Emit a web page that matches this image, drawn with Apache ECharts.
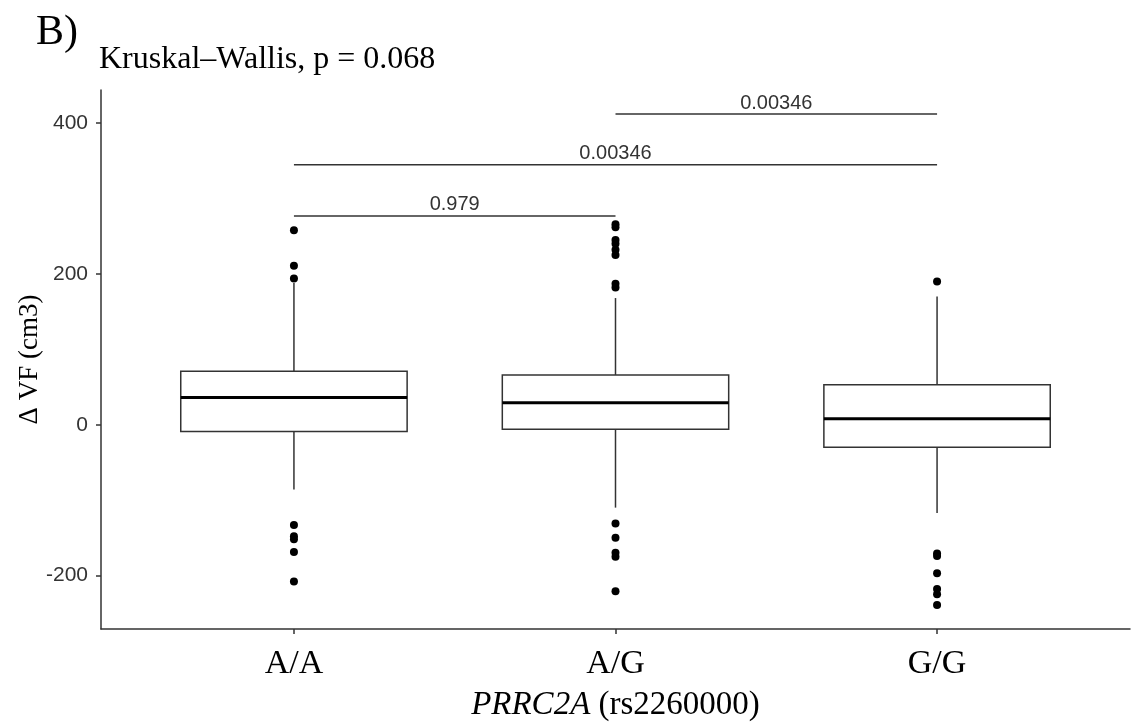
<!DOCTYPE html>
<html>
<head>
<meta charset="utf-8">
<script src="https://cdn.jsdelivr.net/npm/echarts@6/dist/echarts.min.js"></script>
<style>html,body{margin:0;padding:0;background:#fff}#c{width:1132px;height:724px}</style>
</head>
<body>
<div id="c"></div>
<script>
const categories = ['A/A', 'A/G', 'G/G'];
const lowerWhisker = [-86, -110, -117];
const q1 = [-9, -6, -30];
const medians = [36, 29, 8];
const q3 = [71, 66, 53];
const upperWhisker = [188, 168, 170];
const outliersAA = [258, 211, 194, -133, -148, -152, -169, -208];
const outliersAG = [266, 262, 245, 240, 232, 225, 187, 182, -131, -150, -170, -175, -221];
const outliersGG = [190, -171, -174, -197, -218, -225, -239];
const yTicks = [-200, 0, 200, 400];
const comparisonFrom = [1, 1, 2];
const comparisonTo = [2, 3, 3];
const comparisonLevel = [277, 345, 412];
const pValues = ['0.979', '0.00346', '0.00346'];
const titleText = 'Kruskal\u2013Wallis, p = 0.068';
const panelLabel = 'B)';

const boxData = categories.map((c, i) => [i + 1, lowerWhisker[i], q1[i], medians[i], q3[i], upperWhisker[i]]);
const outlierData = [];
[outliersAA, outliersAG, outliersGG].forEach((arr, i) => arr.forEach(v => outlierData.push([i + 1, v])));
const bracketData = pValues.map((p, i) => [comparisonFrom[i], comparisonTo[i], comparisonLevel[i]]);

const stroke = '#333';
const chart = echarts.init(document.getElementById('c'), null, {renderer: 'canvas'});
chart.setOption({
  animation: false,
  backgroundColor: '#fff',
  grid: {left: 101, right: 2, top: 90, bottom: 95, containLabel: false, outerBoundsMode: 'none'},
  graphic: [
    {type: 'text', left: 36, top: 12, style: {text: panelLabel, font: '42px "Liberation Serif"', fill: '#000'}},
    {type: 'text', left: 99, top: 44, style: {text: titleText, font: '32px "Liberation Serif"', fill: '#000'}}
  ],
  xAxis: {
    type: 'value', min: 0.4, max: 3.6,
    splitLine: {show: false},
    axisLine: {show: true, onZero: false, lineStyle: {color: stroke, width: 1.5}},
    axisTick: {show: true, customValues: [1, 2, 3], length: 5, lineStyle: {color: stroke, width: 1.5}},
    axisLabel: {customValues: [1, 2, 3], formatter: v => categories[Math.round(v) - 1], margin: 18,
      fontFamily: 'Liberation Serif', fontSize: 34, color: '#000'},
    name: '{i|PRRC2A} (rs2260000)', nameLocation: 'middle', nameGap: 60, nameMoveOverlap: false,
    nameTextStyle: {fontFamily: 'Liberation Serif', fontSize: 33, color: '#000',
      rich: {i: {fontStyle: 'italic', fontFamily: 'Liberation Serif', fontSize: 33, color: '#000'}}}
  },
  yAxis: {
    type: 'value', min: -271, max: 444,
    splitLine: {show: false},
    axisLine: {show: true, onZero: false, lineStyle: {color: stroke, width: 1.5}},
    axisTick: {show: true, customValues: yTicks, length: 5, lineStyle: {color: stroke, width: 1.5}},
    axisLabel: {customValues: yTicks, margin: 13, fontFamily: 'Liberation Sans', fontSize: 21, color: '#333'},
    name: '\u0394 VF (cm3)', nameLocation: 'middle', nameGap: 58, nameRotate: 90, nameMoveOverlap: false,
    nameTextStyle: {fontFamily: 'Liberation Serif', fontSize: 27, color: '#000'}
  },
  series: [
    {
      type: 'custom',
      data: boxData,
      encode: {x: 0, y: [1, 2, 3, 4, 5]},
      renderItem: function (params, api) {
        const x = api.value(0);
        const pLow = api.coord([x, api.value(1)]);
        const pQ1 = api.coord([x, api.value(2)]);
        const pMed = api.coord([x, api.value(3)]);
        const pQ3 = api.coord([x, api.value(4)]);
        const pHigh = api.coord([x, api.value(5)]);
        const hw = api.size([0.352, 0])[0];
        const ls = {stroke: stroke, lineWidth: 1.5, fill: null};
        return {
          type: 'group',
          children: [
            {type: 'line', shape: {x1: pLow[0], y1: pLow[1], x2: pQ1[0], y2: pQ1[1]}, style: ls},
            {type: 'line', shape: {x1: pQ3[0], y1: pQ3[1], x2: pHigh[0], y2: pHigh[1]}, style: ls},
            {type: 'rect', shape: {x: pQ3[0] - hw, y: pQ3[1], width: 2 * hw, height: pQ1[1] - pQ3[1]}, style: {stroke: stroke, lineWidth: 1.5, fill: '#fff'}},
            {type: 'line', shape: {x1: pMed[0] - hw, y1: pMed[1], x2: pMed[0] + hw, y2: pMed[1]}, style: {stroke: '#000', lineWidth: 3}}
          ]
        };
      },
      z: 2
    },
    {
      type: 'scatter',
      data: outlierData,
      symbol: 'circle',
      symbolSize: 8,
      itemStyle: {color: '#000', opacity: 1},
      z: 3
    },
    {
      type: 'custom',
      data: bracketData,
      encode: {x: [0, 1], y: 2},
      renderItem: function (params, api) {
        const a = api.coord([api.value(0), api.value(2)]);
        const b = api.coord([api.value(1), api.value(2)]);
        return {
          type: 'group',
          children: [
            {type: 'line', shape: {x1: a[0], y1: a[1], x2: b[0], y2: b[1]}, style: {stroke: stroke, lineWidth: 1.5}},
            {type: 'text', x: (a[0] + b[0]) / 2, y: a[1] - 1,
              style: {text: pValues[params.dataIndex], font: '20px "Liberation Sans"', fill: '#333', align: 'center', verticalAlign: 'bottom'}}
          ]
        };
      },
      z: 4
    }
  ]
});
</script>
</body>
</html>
